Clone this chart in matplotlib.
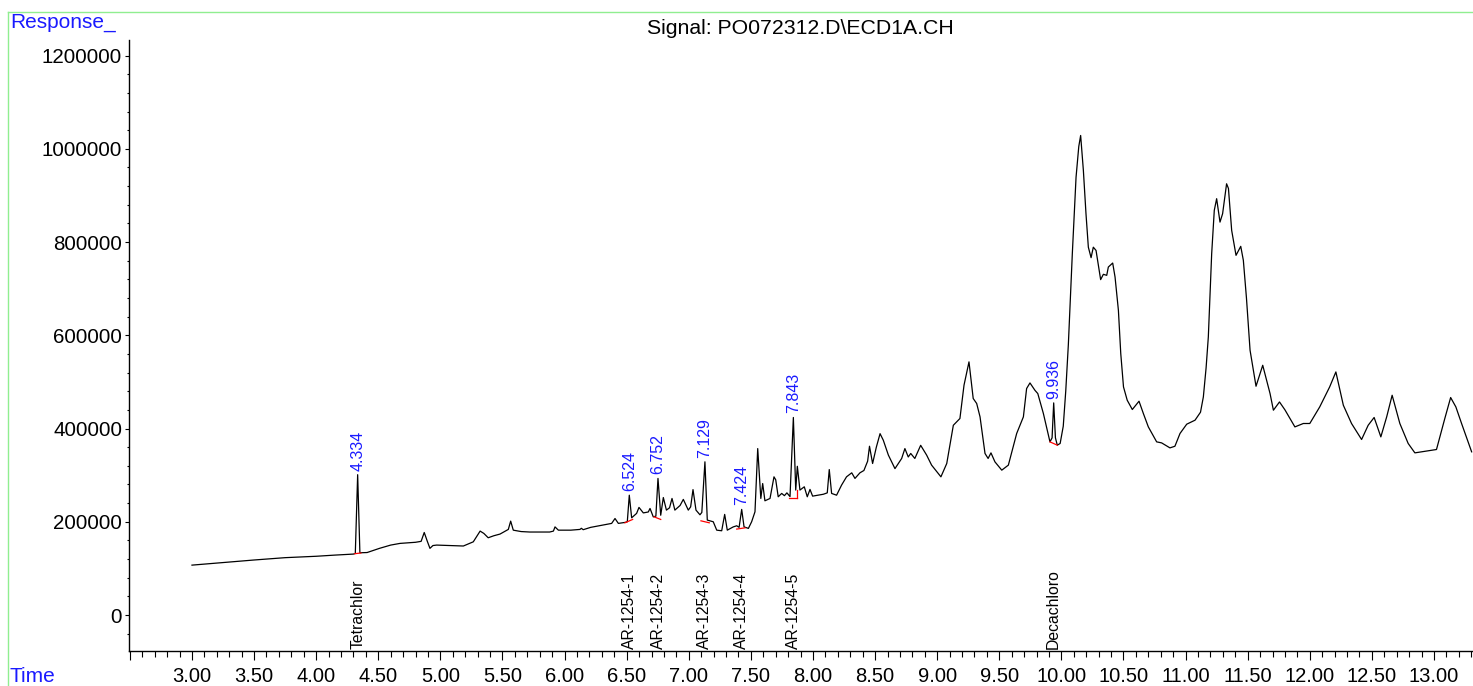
import matplotlib
matplotlib.use("Agg")
import matplotlib.pyplot as plt
from matplotlib.ticker import MultipleLocator, FormatStrFormatter
from matplotlib.lines import Line2D
import matplotlib.transforms as mtransforms

plt.rcParams['font.family'] = ['Liberation Sans', 'DejaVu Sans']

# ---- data: retention time (min) and detector response ----
time = [3.00, 3.25, 3.50, 3.75, 4.00, 4.15, 4.30, 4.315, 4.334, 4.352, 4.41, 4.51, 4.60, 4.675,
        4.80, 4.845, 4.87, 4.895, 4.916, 4.94, 4.97, 5.08, 5.185, 5.265, 5.32, 5.35, 5.385, 5.43,
        5.48, 5.547, 5.566, 5.587, 5.65, 5.72, 5.88, 5.91, 5.923, 5.95, 6.05, 6.124, 6.135, 6.15,
        6.21, 6.31, 6.379, 6.406, 6.433, 6.486, 6.505, 6.521, 6.54, 6.58, 6.599, 6.634, 6.674,
        6.688, 6.714, 6.735, 6.752, 6.774, 6.795, 6.82, 6.845, 6.865, 6.888, 6.93, 6.956, 6.996,
        7.015, 7.034, 7.058, 7.09, 7.105, 7.13, 7.149, 7.197, 7.225, 7.265, 7.289, 7.31, 7.358,
        7.386, 7.405, 7.426, 7.445, 7.48, 7.506, 7.533, 7.555, 7.58, 7.595, 7.613, 7.654, 7.675,
        7.686, 7.70, 7.72, 7.748, 7.77, 7.79, 7.815, 7.842, 7.861, 7.874, 7.895, 7.93, 7.954,
        7.976, 7.997, 8.083, 8.115, 8.131, 8.15, 8.19, 8.23, 8.27, 8.312, 8.338, 8.378, 8.41,
        8.44, 8.455, 8.48, 8.51, 8.54, 8.566, 8.607, 8.66, 8.714, 8.74, 8.767, 8.787, 8.82, 8.867,
        8.915, 8.955, 9.03, 9.077, 9.13, 9.183, 9.216, 9.256, 9.29, 9.318, 9.345, 9.385, 9.41,
        9.433, 9.465, 9.52, 9.573, 9.64, 9.694, 9.72, 9.747, 9.787, 9.81, 9.855, 9.908, 9.925,
        9.938, 9.952, 9.967, 9.99, 10.015, 10.035, 10.056, 10.088, 10.118, 10.14, 10.155, 10.177,
        10.198, 10.217, 10.239, 10.257, 10.279, 10.316, 10.338, 10.365, 10.378, 10.413, 10.432,
        10.459, 10.478, 10.50, 10.53, 10.571, 10.625, 10.66, 10.70, 10.767, 10.807, 10.874,
        10.914, 10.955, 11.009, 11.076, 11.12, 11.143, 11.165, 11.183, 11.21, 11.231, 11.25,
        11.277, 11.298, 11.33, 11.345, 11.371, 11.406, 11.444, 11.465, 11.49, 11.519, 11.567,
        11.621, 11.68, 11.707, 11.756, 11.80, 11.88, 11.948, 12.0, 12.08, 12.16, 12.21, 12.27,
        12.336, 12.417, 12.47, 12.518, 12.572, 12.619, 12.663, 12.725, 12.792, 12.846, 12.95,
        13.02, 13.087, 13.134, 13.176, 13.222, 13.303]
response = [107000, 112500, 118000, 123000, 126000, 128500, 130700, 132000, 301000, 133500,
            134000, 143000, 150000, 153600, 156000, 158000, 177000, 158000, 143000, 149000,
            150000, 149000, 148000, 157000, 180000, 175000, 165700, 170000, 173600, 183600,
            201400, 182000, 179000, 178000, 178000, 180000, 189000, 182000, 182000, 183600,
            186000, 183000, 188000, 193000, 196500, 207000, 196500, 198600, 200000, 257000,
            208500, 218000, 230800, 219000, 221000, 228600, 210600, 212000, 293000, 214000,
            252000, 225000, 230000, 250000, 225000, 235000, 248000, 225000, 232000, 269000,
            225000, 215000, 220000, 328600, 203600, 200000, 182000, 180700, 215800, 182000,
            189000, 191400, 188000, 226500, 189000, 185800, 200000, 221400, 357000, 250000,
            282000, 245000, 250000, 280000, 296400, 290000, 253600, 260800, 256000, 262000,
            254000, 423700, 268000, 319000, 268000, 275000, 253600, 269400, 255000, 259000,
            262000, 312000, 260800, 257000, 278600, 296400, 305000, 293000, 305000, 310000,
            330000, 362000, 325000, 360000, 389000, 375000, 343000, 314000, 335800, 357000,
            339000, 346500, 335800, 364000, 343000, 321500, 296400, 325000, 407000, 421500,
            493000, 543000, 464400, 453700, 425000, 346500, 335800, 347800, 328500, 310700,
            321500, 389400, 425000, 485800, 497800, 482000, 475000, 432200, 371400, 380000,
            455000, 380000, 364300, 368000, 405000, 480000, 580000, 775000, 939000, 1005000,
            1028600, 953600, 860800, 789000, 766500, 789000, 782000, 719400, 730800, 728600,
            746400, 755000, 725000, 653600, 560800, 489300, 460700, 440800, 458600, 432200,
            403500, 371400, 369200, 358500, 362000, 389400, 409300, 417900, 435000, 467800,
            530000, 596400, 775000, 868000, 893000, 842800, 860800, 925000, 915000, 825000,
            771500, 790800, 760800, 680000, 568000, 490700, 535700, 475000, 439300, 457000,
            440000, 403500, 410800, 410800, 446400, 489300, 521400, 450000, 410800, 376500,
            407000, 423700, 382100, 425000, 471400, 410800, 368000, 347800, 352000, 355000,
            421500, 466500, 446400, 410800, 350000]

# integrated peaks: retention time label and apex response
peak_rt = [4.334, 6.524, 6.752, 7.129, 7.424, 7.843, 9.936]
peak_apex = [301000, 257000, 293000, 328600, 226500, 423700, 455000]
peak_labels = ["4.334", "6.524", "6.752", "7.129", "7.424", "7.843", "9.936"]

# integration baselines (start time, start resp, end time, end resp)
base_t0 = [4.31, 6.486, 6.72, 7.098, 7.386, 7.81, 9.908]
base_y0 = [131500, 197800, 210600, 202000, 184300, 252000, 371400]
base_t1 = [4.36, 6.548, 6.774, 7.165, 7.453, 7.87, 9.967]
base_y1 = [133000, 205000, 205000, 197800, 187000, 252000, 364300]

# compound identifications
comp_rt = [4.334, 6.524, 6.752, 7.129, 7.424, 7.843, 9.936]
comp_names = ["Tetrachlor", "AR-1254-1", "AR-1254-2", "AR-1254-3", "AR-1254-4",
              "AR-1254-5", "Decachloro"]

W, H = 1473, 686
fig = plt.figure(figsize=(W / 100, H / 100), dpi=100)
ax = fig.add_axes([129 / W, (H - 651) / H, (W - 129) / W, (651 - 40) / H])

ax.plot(time, response, color='black', lw=0.9, zorder=3)
for a, b, c, d in zip(base_t0, base_y0, base_t1, base_y1):
    ax.plot([a, c], [b, d], color='red', lw=0.9, zorder=4)
# vertical drop line at end of the 7.843 integration
ax.plot([7.87, 7.87], [252000, 268000], color='red', lw=0.9, zorder=4)

for rt, ap, lab in zip(peak_rt, peak_apex, peak_labels):
    ax.annotate(lab, xy=(rt, ap), xytext=(0, 3), textcoords='offset points',
                rotation=90, ha='center', va='bottom', color='#1a1aff', fontsize=11.5)

trans = mtransforms.blended_transform_factory(ax.transData, ax.transAxes)
for rt, nm in zip(comp_rt, comp_names):
    ax.text(rt, 0.004, nm, transform=trans, rotation=90, ha='center', va='bottom',
            color='black', fontsize=11.3)

ax.set_xlim(2.493, 13.314)
ax.set_ylim(-77200, 1233400)

ax.spines['top'].set_visible(False)
ax.spines['right'].set_visible(False)
for s in ('left', 'bottom'):
    ax.spines[s].set_linewidth(1.0)

xmajor = [2.5 + 0.5 * i for i in range(22)]
ax.set_xticks(xmajor)
ax.set_xticklabels(['' if v < 2.9 else f'{v:.2f}' for v in xmajor])
ax.xaxis.set_minor_locator(MultipleLocator(0.1))
ax.yaxis.set_major_locator(MultipleLocator(200000))
ax.yaxis.set_minor_locator(MultipleLocator(40000))
ax.yaxis.set_major_formatter(FormatStrFormatter('%d'))

ax.tick_params(axis='x', which='major', length=6.5, width=0.8, labelsize=14.5, pad=5)
ax.tick_params(axis='x', which='minor', length=4.3, width=0.8)
ax.tick_params(axis='y', which='major', length=3, width=0.8, labelsize=14.8, pad=2)
ax.tick_params(axis='y', which='minor', length=1.8, width=0.8)

fig.text(800 / W, 1 - 28 / H, r"Signal: PO072312.D\ECD1A.CH", ha='center', va='center',
         fontsize=15.3, color='black')
fig.text(10 / W, 1 - 22 / H, "Response_", ha='left', va='center', fontsize=15, color='#1a1aff')
fig.text(10 / W, 1 - 676 / H, "Time", ha='left', va='center', fontsize=15, color='#1a1aff')

green = '#90ee90'
fig.add_artist(Line2D([8 / W, 1.0], [1 - 12 / H, 1 - 12 / H], color=green, lw=1.0,
                      transform=fig.transFigure))
fig.add_artist(Line2D([8 / W, 8 / W], [0, 1 - 12 / H], color=green, lw=1.0,
                      transform=fig.transFigure))

fig.savefig("out.png", dpi=100)
